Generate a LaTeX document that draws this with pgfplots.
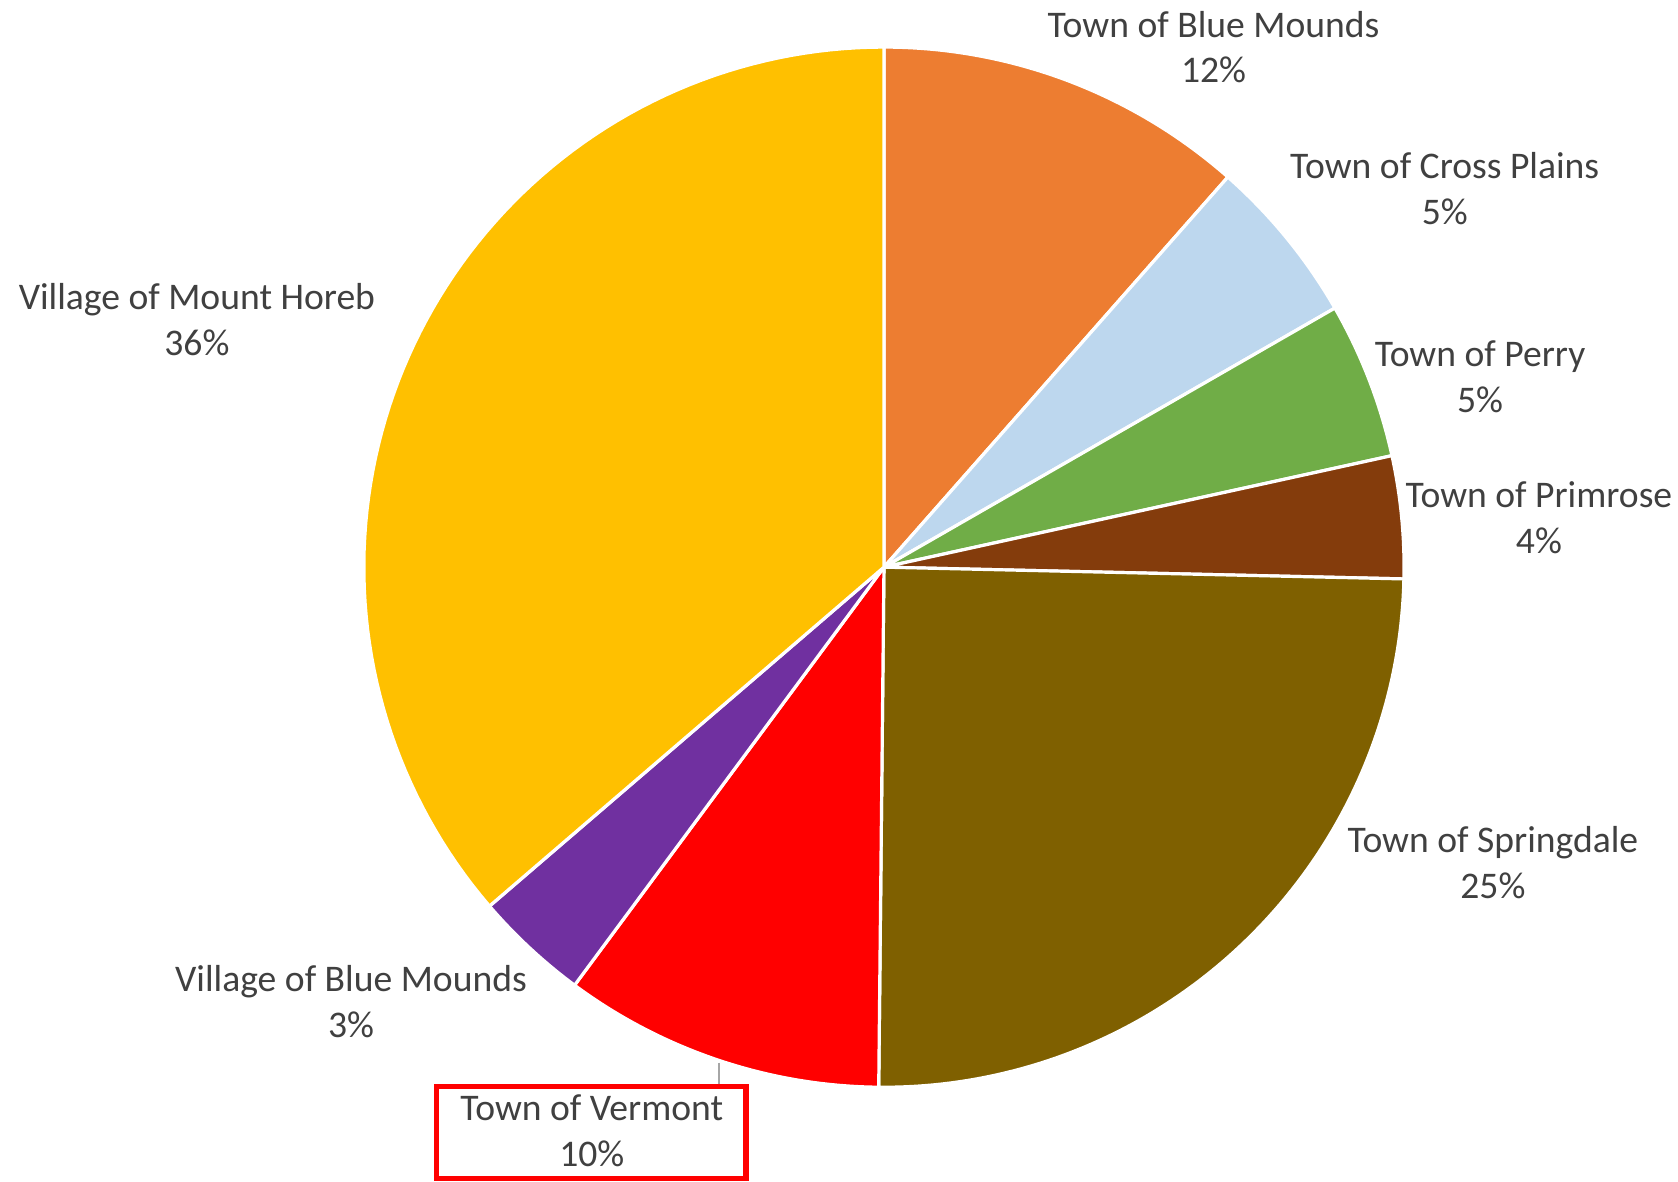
\documentclass[border=0pt]{standalone}
\usepackage{pgfplots}
\pgfplotsset{compat=1.18}
\usepackage{fontspec}
\setmainfont{Carlito}
\definecolor{cOrange}{HTML}{ED7D31}
\definecolor{cLBlue}{HTML}{BDD7EE}
\definecolor{cGreen}{HTML}{70AD47}
\definecolor{cBrown}{HTML}{843C0C}
\definecolor{cOlive}{HTML}{7F6000}
\definecolor{cRed}{HTML}{FF0000}
\definecolor{cPurple}{HTML}{7030A0}
\definecolor{cYellow}{HTML}{FFC000}
\definecolor{txt}{HTML}{404040}
% slice shares (percent), clockwise from 12 o'clock
\def\vA{11.5}  % Town of Blue Mounds
\def\vB{5.2}   % Town of Cross Plains
\def\vC{4.86}  % Town of Perry
\def\vD{3.8}   % Town of Primrose
\def\vE{24.8}  % Town of Springdale
\def\vF{9.98}  % Town of Vermont
\def\vG{3.56}  % Village of Blue Mounds
\def\vH{36.3}  % Village of Mount Horeb
\newcommand{\slice}[3]{%
  \addplot[fill=#3, draw=white, line width=0.85pt, line join=round, domain=#2:#1, samples=90, variable=\t]
    ({826+486*cos(\t)},{574+486*sin(\t)}) -- (axis cs:826,574) -- cycle;}
\begin{document}
\begin{tikzpicture}
\pgfmathsetmacro{\aA}{90}
\pgfmathsetmacro{\aB}{\aA-3.6*\vA}
\pgfmathsetmacro{\aC}{\aB-3.6*\vB}
\pgfmathsetmacro{\aD}{\aC-3.6*\vC}
\pgfmathsetmacro{\aE}{\aD-3.6*\vD}
\pgfmathsetmacro{\aF}{\aE-3.6*\vE}
\pgfmathsetmacro{\aG}{\aF-3.6*\vF}
\pgfmathsetmacro{\aH}{\aG-3.6*\vG}
\pgfmathsetmacro{\aI}{\aH-3.6*\vH}
\begin{axis}[
  hide axis, scale only axis,
  width=15.68cm, height=11.04cm,
  xmin=0, xmax=1568, ymin=0, ymax=1104,
  clip=false,
]
\slice{\aA}{\aB}{cOrange}
\slice{\aB}{\aC}{cLBlue}
\slice{\aC}{\aD}{cGreen}
\slice{\aD}{\aE}{cBrown}
\slice{\aE}{\aF}{cOlive}
\slice{\aF}{\aG}{cRed}
\slice{\aG}{\aH}{cPurple}
\slice{\aH}{\aI}{cYellow}
\addplot[draw=gray!70, line width=0.5pt] coordinates {(672,111) (672,89)};
\addplot[draw=cRed, line width=1.4pt] coordinates {(408,89) (697,89) (697,3) (408,3)} -- cycle;
\begin{scope}[every node/.style={font=\fontsize{10}{12.2}\selectfont, text=txt, align=center, inner sep=0pt}]
\node at (axis cs:1134,1060) {Town of Blue Mounds\\12\%};
\node at (axis cs:1350,928) {Town of Cross Plains\\5\%};
\node at (axis cs:1383,752) {Town of Perry\\5\%};
\node at (axis cs:1438,620) {Town of Primrose\\4\%};
\node at (axis cs:1395,298) {Town of Springdale\\25\%};
\node at (axis cs:328,168) {Village of Blue Mounds\\3\%};
\node at (axis cs:553,47) {Town of Vermont\\10\%};
\node at (axis cs:184,805) {Village of Mount Horeb\\36\%};
\end{scope}
\end{axis}
\pgfresetboundingbox
\path (current axis.south west) rectangle (current axis.north east);
\end{tikzpicture}
\end{document}
